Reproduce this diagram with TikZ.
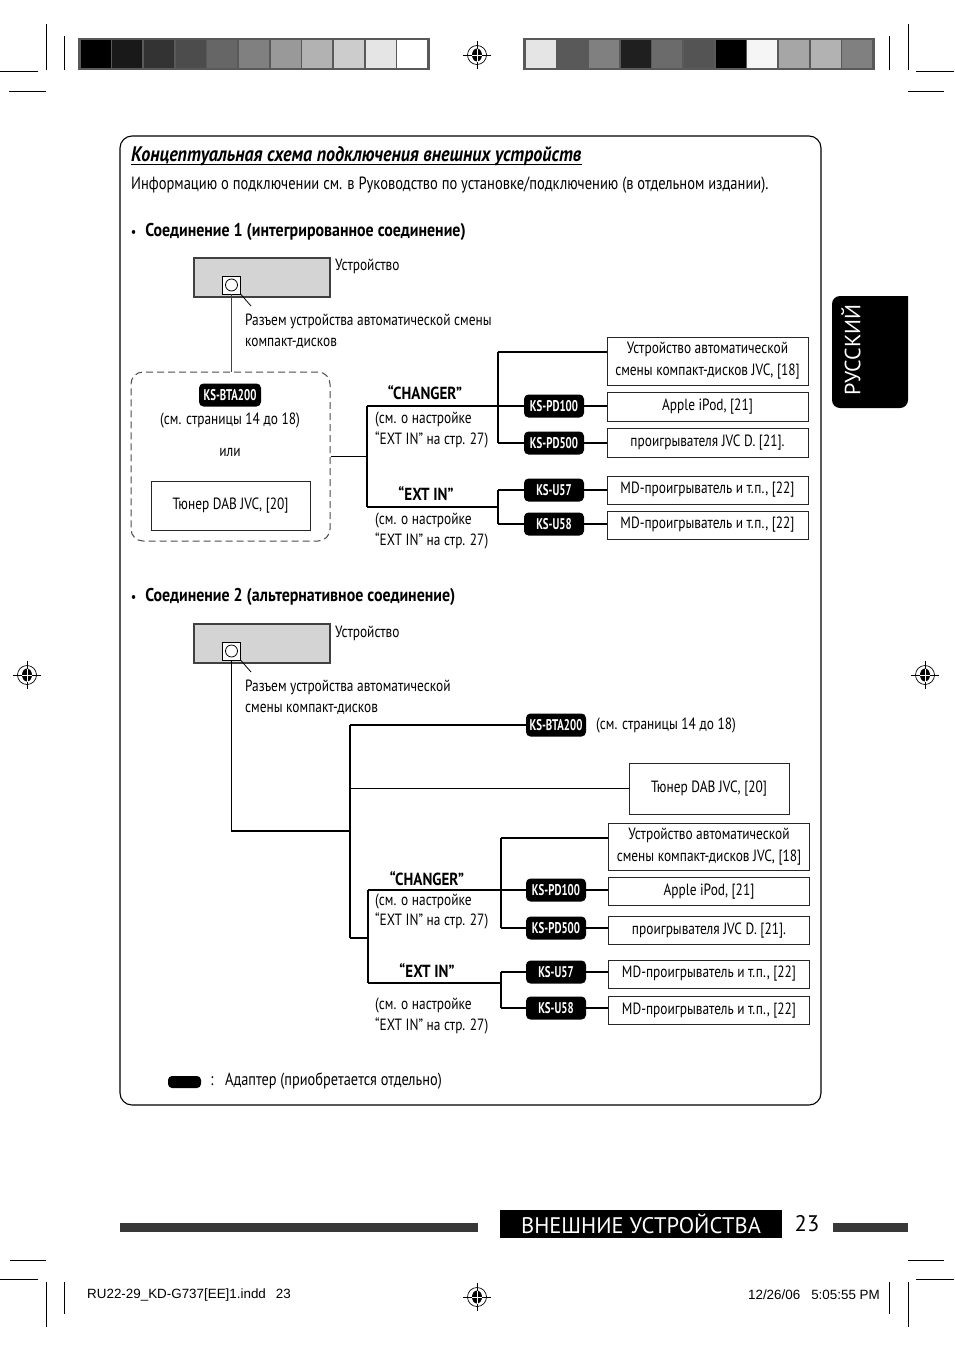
\documentclass[tikz,border=0pt]{standalone}
\usepackage{fontspec}
\setmainfont{PT Sans}[FakeStretch=0.82]
\newfontfamily\bcond{PT Sans}[FakeStretch=0.86]
\newfontfamily\badgefont{PT Sans}[FakeStretch=0.7]
\newfontfamily\widefont{PT Sans}
\newfontfamily\arialfont{Liberation Sans}
\newcommand\regmark[2]{%
  \draw[line width=0.7pt] (#1,#2) circle[radius=9.5pt];
  \draw[line width=0.7pt] (#1-14,#2) -- (#1+14,#2) (#1,#2-14) -- (#1,#2+14);
  \fill (#1,#2) circle[x radius=5pt, y radius=6.5pt];
  \draw[white, line width=0.7pt] (#1-5,#2) -- (#1+5,#2) (#1,#2-6.5) -- (#1,#2+6.5);
}
\begin{document}
\begin{tikzpicture}[x=1pt,y=-1pt,
  lbl/.style={inner sep=0pt, font=\fontsize{16.3}{21}\selectfont},
  boldlbl/.style={inner sep=0pt, font=\bcond\bfseries\fontsize{18.5}{20}\selectfont},
  chlbl/.style={inner sep=0pt, font=\bcond\bfseries\fontsize{17.5}{20}\selectfont},
  badge/.style={fill=black, rounded corners=4.5pt, text=white, inner sep=0pt, minimum width=60pt, minimum height=23pt, font=\badgefont\bfseries\fontsize{15.5}{15}\selectfont},
  dbox/.style={draw=black!85, line width=0.9pt, fill=white, inner sep=0pt, align=center, minimum width=201pt, font=\fontsize{16.3}{22}\selectfont},
  conn/.style={line width=1.8pt},
  devbox/.style={draw=black!75, line width=1.6pt, fill=black!17, minimum width=136pt, minimum height=39pt, inner sep=0pt},
  sock/.style={draw=black, line width=0.9pt, fill=white, minimum size=18pt, inner sep=0pt},
  leader/.style={line width=0.8pt},
  crop/.style={line width=0.8pt},
]
\useasboundingbox (0,0) rectangle (954,1352);
\fill[white] (0,0) rectangle (954,1352);

% ---------- crop marks ----------
\draw[crop] (46,24) -- (46,70) (64,36) -- (64,70) (0,71) -- (38,71) (9,91) -- (46,91);
\draw[crop] (908,24) -- (908,70) (889,36) -- (889,70) (916,71) -- (954,71) (908,91) -- (944,91);
\draw[crop] (46,1282) -- (46,1327) (64,1282) -- (64,1314) (0,1279) -- (38,1279) (10,1260) -- (46,1260);
\draw[crop] (908,1282) -- (908,1327) (889,1282) -- (889,1314) (916,1279) -- (954,1279) (908,1260) -- (944,1260);

% ---------- colour bars ----------
\fill[black!65] (78,38) rectangle (430,70);
\foreach \g [count=\i from 0] in {100,90,80,70,60,50,40,30,20,10,0}
  \fill[black!\g] ({80+\i*31.64+0.8},40) rectangle ({80+(\i+1)*31.64-0.8},68);
\fill[black!65] (523,38) rectangle (875,70);
\foreach \g [count=\i from 0] in {10,65,50,88,58,67,100,4,35,30,50}
  \fill[black!\g] ({525+\i*31.64+0.8},40) rectangle ({525+(\i+1)*31.64-0.8},68);

% ---------- registration marks ----------
\regmark{477}{55}
\regmark{477}{1297}
\regmark{27}{675}
\regmark{925}{675}

% ---------- main frame ----------
\draw[line width=1.1pt, rounded corners=12pt] (120,136) rectangle (821,1105);

% ---------- language tab ----------
\fill[rounded corners=8pt] (908,296) -- (832,296) -- (832,408) -- (908,408) [sharp corners] -- cycle;
\node[rotate=90, text=white, inner sep=0pt, font=\widefont\fontsize{22}{22}\selectfont] (lang) at (851,350) {РУССКИЙ};

% ---------- heading ----------
\node[anchor=base west, inner sep=0pt, font=\bcond\bfseries\itshape\fontsize{21}{22}\selectfont] (title) at (131,161) {Концептуальная схема подключения внешних устройств};
\draw[line width=1pt] ([yshift=-3.5pt]title.base west) -- ([yshift=-3.5pt]title.base east);
\node[anchor=west, inner sep=0pt, font=\fontsize{17.7}{20}\selectfont] (intro) at (131,185) {Информацию о подключении см. в Руководство по установке/подключению (в отдельном издании).};

% ================= Connection 1 =================
\node[anchor=west, boldlbl] (sec1) at (131,232) {{\fontsize{13}{13}\selectfont•}\hspace{9pt}Соединение 1 (интегрированное соединение)};

\node[devbox] (dev1) at (262,277.5) {};
\node[sock] (sq1) at (231.5,285) {};
\draw[line width=0.8pt] (sq1.center) circle[radius=6pt];
\node[lbl, anchor=north west] (dev1l) at (335,259) {Устройство};
\coordinate (ld1) at (251,306);
\draw[leader] (sq1.south east) -- (ld1);
\node[lbl, anchor=north west, align=left] (sock1l) at (245,314) {Разъем устройства автоматической смены\\компакт-дисков};

\node[draw=black!70, line width=1pt, dash pattern=on 7pt off 4pt, rounded corners=12pt, minimum width=199pt, minimum height=169pt, inner sep=0pt] (dash1) at (230.5,456.5) {};
\draw[line width=1pt, black!75] (sq1.south) -- (sq1.south |- dash1.north);
\node[badge, minimum width=62pt] (bta1) at (230,395) {KS-BTA200};
\node[lbl] (pages1) at (230,420) {(см. страницы 14 до 18)};
\node[lbl] (or1) at (230,452) {или};
\node[dbox, minimum width=159pt, minimum height=49pt] (dab1) at (230.5,505.5) {Тюнер DAB JVC, [20]};

\coordinate (ch1) at (367,406);
\coordinate (ex1) at (367,507);
\coordinate (c1t) at (498,352);
\coordinate (c1b) at (498,443);
\coordinate (e1t) at (498,490);
\coordinate (e1b) at (498,524);

\node[badge] (pd100a) at (554,406) {KS-PD100};
\node[badge] (pd500a) at (554,443) {KS-PD500};
\node[badge] (u57a) at (554,490) {KS-U57};
\node[badge] (u58a) at (554,524) {KS-U58};

\node[dbox, minimum height=48pt] (cdc1) at (707.5,361) {Устройство автоматической\\смены компакт-дисков JVC, [18]};
\node[dbox, minimum height=29pt] (ipod1) at (707.5,406.5) {Apple iPod, [21]};
\node[dbox, minimum height=29pt] (pl1) at (707.5,442.5) {проигрывателя JVC D. [21].};
\node[dbox, minimum height=28pt] (md1a) at (707.5,490) {MD-проигрыватель и т.п., [22]};
\node[dbox, minimum height=28pt] (md1b) at (707.5,525) {MD-проигрыватель и т.п., [22]};

\draw[conn] (dash1.east) -- (dash1.east -| ch1);
\draw[conn] (ch1) -- (ex1);
\draw[conn] (ch1) -- (pd100a.west);
\draw[conn] (c1t) -- (c1b);
\draw[conn] (c1t) -- (c1t -| cdc1.west);
\draw[conn] (c1b) -- (pd500a.west);
\draw[conn] (ex1) -- (ex1 -| e1t);
\draw[conn] (e1t) -- (e1b);
\draw[conn] (e1t) -- (u57a.west);
\draw[conn] (e1b) -- (u58a.west);
\draw[conn] (pd100a.east) -- (pd100a.east -| ipod1.west);
\draw[conn] (pd500a.east) -- (pd500a.east -| pl1.west);
\draw[conn] (u57a.east) -- (u57a.east -| md1a.west);
\draw[conn] (u58a.east) -- (u58a.east -| md1b.west);

\node[chlbl] (chl1) at (425,393) {“CHANGER”};
\node[lbl, anchor=west] (chs1a) at (375,419) {(см. о настройке};
\node[lbl, anchor=west] (chs1b) at (375,440) {“EXT IN” на стр. 27)};
\node[chlbl] (exl1) at (426,494) {“EXT IN”};
\node[lbl, anchor=west] (exs1a) at (375,520) {(см. о настройке};
\node[lbl, anchor=west] (exs1b) at (375,541) {“EXT IN” на стр. 27)};

% ================= Connection 2 =================
\node[anchor=west, boldlbl] (sec2) at (131,597) {{\fontsize{13}{13}\selectfont•}\hspace{9pt}Соединение 2 (альтернативное соединение)};

\node[devbox] (dev2) at (262,643.5) {};
\node[sock] (sq2) at (231.5,651) {};
\draw[line width=0.8pt] (sq2.center) circle[radius=6pt];
\node[lbl, anchor=north west] (dev2l) at (335,626) {Устройство};
\coordinate (ld2) at (251,672);
\draw[leader] (sq2.south east) -- (ld2);
\node[lbl, anchor=north west, align=left] (sock2l) at (245,680) {Разъем устройства автоматической\\смены компакт-дисков};

\coordinate (k2) at (231.5,831);
\coordinate (t2) at (350,725);
\coordinate (bt2) at (350,938);
\coordinate (ch2) at (368,890);
\coordinate (ex2) at (368,983);
\coordinate (c2t) at (501,838);
\coordinate (c2b) at (501,928);
\coordinate (e2t) at (501,972);
\coordinate (e2b) at (501,1008);

\node[badge] (bta2) at (556,725) {KS-BTA200};
\node[lbl, anchor=west] (pages2) at (596,725) {(см. страницы 14 до 18)};
\node[dbox, minimum width=160pt, minimum height=51pt] (dab2) at (709,788.5) {Тюнер DAB JVC, [20]};

\node[badge] (pd100b) at (556,890) {KS-PD100};
\node[badge] (pd500b) at (556,928) {KS-PD500};
\node[badge] (u57b) at (556,972) {KS-U57};
\node[badge] (u58b) at (556,1008) {KS-U58};

\node[dbox, minimum height=47pt] (cdc2) at (709,846.5) {Устройство автоматической\\смены компакт-дисков JVC, [18]};
\node[dbox, minimum height=28pt] (ipod2) at (709,891.5) {Apple iPod, [21]};
\node[dbox, minimum height=28pt] (pl2) at (709,930.5) {проигрывателя JVC D. [21].};
\node[dbox, minimum height=28pt] (md2a) at (709,974) {MD-проигрыватель и т.п., [22]};
\node[dbox, minimum height=28pt] (md2b) at (709,1010.5) {MD-проигрыватель и т.п., [22]};

\draw[conn] (sq2.south) -- (sq2.south |- k2) -- (k2 -| t2);
\draw[conn] (t2) -- (bt2);
\draw[conn] (t2) -- (bta2.west);
\draw[conn] (t2 |- dab2.west) -- (dab2.west);
\draw[conn] (bt2) -- (bt2 -| ch2);
\draw[conn] (ch2) -- (ex2);
\draw[conn] (ch2) -- (pd100b.west);
\draw[conn] (c2t) -- (c2b);
\draw[conn] (c2t) -- (c2t -| cdc2.west);
\draw[conn] (c2b) -- (pd500b.west);
\draw[conn] (ex2) -- (ex2 -| e2t);
\draw[conn] (e2t) -- (e2b);
\draw[conn] (e2t) -- (u57b.west);
\draw[conn] (e2b) -- (u58b.west);
\draw[conn] (pd100b.east) -- (pd100b.east -| ipod2.west);
\draw[conn] (pd500b.east) -- (pd500b.east -| pl2.west);
\draw[conn] (u57b.east) -- (u57b.east -| md2a.west);
\draw[conn] (u58b.east) -- (u58b.east -| md2b.west);

\node[chlbl] (chl2) at (427,879) {“CHANGER”};
\node[lbl, anchor=west] (chs2a) at (375,901) {(см. о настройке};
\node[lbl, anchor=west] (chs2b) at (375,921) {“EXT IN” на стр. 27)};
\node[chlbl] (exl2) at (427,971) {“EXT IN”};
\node[lbl, anchor=west] (exs2a) at (375,1005) {(см. о настройке};
\node[lbl, anchor=west] (exs2b) at (375,1026) {“EXT IN” на стр. 27)};

% ---------- legend ----------
\fill[rounded corners=4pt] (168,1076) rectangle (201,1088);
\node[lbl, font=\fontsize{17.5}{20}\selectfont] (colon) at (212,1081) {:};
\node[lbl, anchor=west, font=\fontsize{17.5}{20}\selectfont] (legend) at (225,1081) {Адаптер (приобретается отдельно)};

% ---------- footer ----------
\fill[black!78] (120,1223) rectangle (478,1232);
\fill[black] (500,1210) rectangle (782,1238);
\fill[black!78] (833,1223) rectangle (908,1232);
\node[text=white, inner sep=0pt, font=\widefont\fontsize{22.5}{24}\selectfont] (chap) at (641,1224) {ВНЕШНИЕ УСТРОЙСТВА};
\node[inner sep=0pt, font=\widefont\fontsize{22.5}{24}\selectfont] (pagenum) at (807,1224) {23};
\node[anchor=west, inner sep=0pt, font=\arialfont\fontsize{13.4}{15}\selectfont] (fileinfo) at (87,1295) {RU22-29\_KD-G737[EE]1.indd\hspace{10pt}23};
\node[anchor=east, inner sep=0pt, font=\arialfont\fontsize{13.4}{15}\selectfont] (dateinfo) at (880,1295) {12/26/06\hspace{11pt}5:05:55 PM};
\end{tikzpicture}
\end{document}
